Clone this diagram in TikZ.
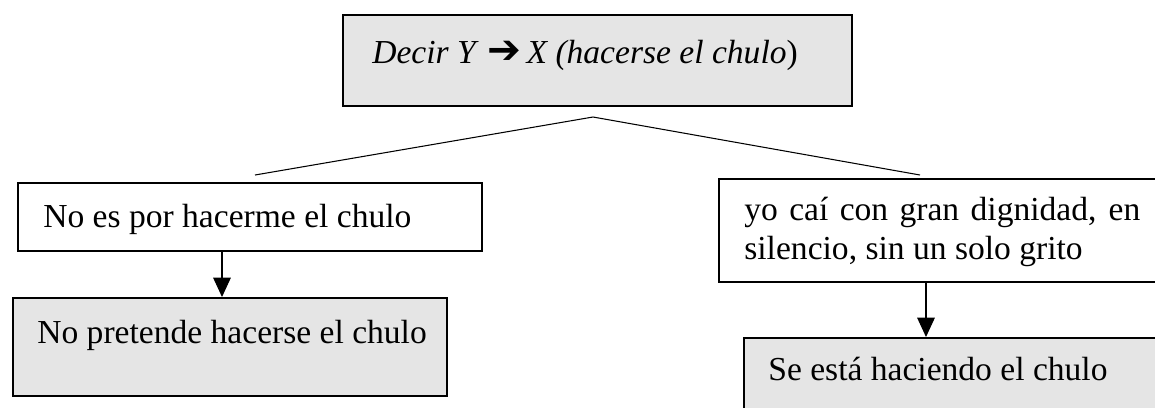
\documentclass[tikz,border=0pt]{standalone}
\usepackage{fontspec}
\setmainfont{Liberation Serif}
\newfontfamily\flechafont{DejaVu Sans}
\usetikzlibrary{arrows.meta}
\definecolor{cajagris}{RGB}{229,229,229}
\tikzset{
  caja/.style={draw=black,line width=1.1pt,rectangle,anchor=north west,inner sep=0pt},
  texto/.style={anchor=base west,inner sep=0pt},
  rama/.style={black,line width=0.6pt},
  flecha/.style={black,line width=0.6pt,-{Triangle[width=10pt,length=11pt]}}
}
\begin{document}
\begin{tikzpicture}[x=0.02cm,y=-0.02cm,font=\fontsize{19.1}{22.2}\selectfont]
  \useasboundingbox (0,0) rectangle (1155,407);
  % cajas
  \node [caja,fill=cajagris,minimum width=10.18cm,minimum height=1.82cm] (decir) at (342,14) {};
  \node [caja,fill=white,minimum width=9.28cm,minimum height=1.36cm] (noes) at (17,182) {};
  \node [caja,fill=cajagris,minimum width=8.68cm,minimum height=1.96cm] (nopretende) at (12,297) {};
  \node [caja,fill=white,minimum width=8.9cm,minimum height=2.06cm] (yocai) at (718,178) {};
  \node [caja,fill=cajagris,minimum width=8.5cm,minimum height=2.0cm] (seesta) at (743,337) {};
  % textos
  \node [texto] (tdecir) at (372,63) {\textit{Decir Y} {\flechafont\bfseries\fontsize{23}{23}\selectfont ➔}\,\textit{X (hacerse el chulo})};
  \node [texto] (tnoes) at (43,227) {No es por hacerme el chulo};
  \node [texto] (tnopretende) at (37,343) {No pretende hacerse el chulo};
  \node [anchor=north west,inner sep=0pt,text width=7.92cm,align=justify] (tyocai) at (744,197)
    {yo caí con gran dignidad, en\linebreak silencio, sin un solo grito};
  \node [texto] (tseesta) at (768,380) {Se está haciendo el chulo};
  % ramas
  \coordinate (pico) at (593,117);
  \coordinate (izq) at (255,175);
  \coordinate (der) at (920,175);
  \draw [rama] (izq) -- (pico) -- (der);
  \coordinate (fl) at (222,0);
  \coordinate (fr) at (926,0);
  \draw [flecha] (fl |- noes.south) -- (fl |- nopretende.north);
  \draw [flecha] (fr |- yocai.south) -- (fr |- seesta.north);
\end{tikzpicture}
\end{document}
